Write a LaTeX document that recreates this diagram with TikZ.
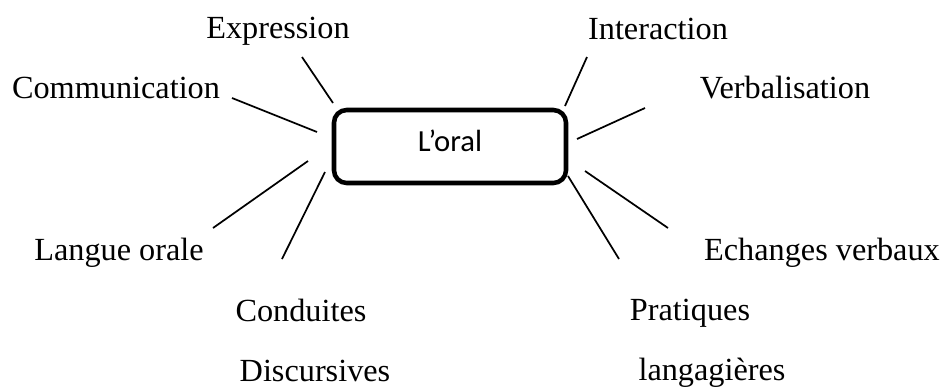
\documentclass[tikz,border=0pt]{standalone}
\usepackage{fontspec}
\setmainfont{Liberation Serif}
\newfontfamily\calibri{Carlito}
\usetikzlibrary{positioning}

\begin{document}
\begin{tikzpicture}[x=0.75pt,y=-0.75pt]
 % styles
 \tikzstyle{word} = [font=\fontsize{24.2}{29}\selectfont,anchor=base,inner sep=0pt];
 \tikzstyle{centre} = [draw=black,line width=3.4pt,rounded corners=9.5pt,minimum width=174pt,minimum height=54.75pt,inner sep=0pt,font=\calibri\fontsize{23}{27}\selectfont,text height=12.5pt,text depth=5.5pt];
 \tikzstyle{ray} = [line width=1.3pt];

 \useasboundingbox (0,0) rectangle (943,387);

 % nodes
 \node[centre] (oral) at (450,146.5) {L’oral};
 \node[word] (expression) at (278,38) {Expression};
 \node[word] (communication) at (116,98) {Communication};
 \node[word] (interaction) at (658,39) {Interaction};
 \node[word] (verbalisation) at (785,98) {Verbalisation};
 \node[word] (langue) at (119,260) {Langue orale};
 \node[word] (echanges) at (822,260) {Echanges verbaux};
 \node[word] (conduites) at (301,321) {Conduites};
 \node[word,below=45pt of conduites.base,anchor=base,xshift=10.5pt] (discursives) {Discursives};
 \node[word] (pratiques) at (690,320) {Pratiques};
 \node[word,below=45.5pt of pratiques.base,anchor=base,xshift=16.5pt] (langagieres) {langagières};

 % ray ends
 \coordinate (expression-a) at (302,57);    \coordinate (expression-b) at (333,103);
 \coordinate (communication-a) at (232,98); \coordinate (communication-b) at (317,132);
 \coordinate (interaction-a) at (587,57);   \coordinate (interaction-b) at (565,106);
 \coordinate (verbalisation-a) at (645,108);\coordinate (verbalisation-b) at (577,139);
 \coordinate (langue-a) at (213,228);       \coordinate (langue-b) at (308,161);
 \coordinate (conduites-a) at (282,259);    \coordinate (conduites-b) at (325,172);
 \coordinate (echanges-a) at (668,228);     \coordinate (echanges-b) at (585,171);
 \coordinate (pratiques-a) at (619,259);    \coordinate (pratiques-b) at (568,176);

 % edges
 \draw[ray] (expression-a) -- (expression-b);
 \draw[ray] (communication-a) -- (communication-b);
 \draw[ray] (interaction-a) -- (interaction-b);
 \draw[ray] (verbalisation-a) -- (verbalisation-b);
 \draw[ray] (langue-a) -- (langue-b);
 \draw[ray] (conduites-a) -- (conduites-b);
 \draw[ray] (echanges-a) -- (echanges-b);
 \draw[ray] (pratiques-a) -- (pratiques-b);
\end{tikzpicture}
\end{document}
